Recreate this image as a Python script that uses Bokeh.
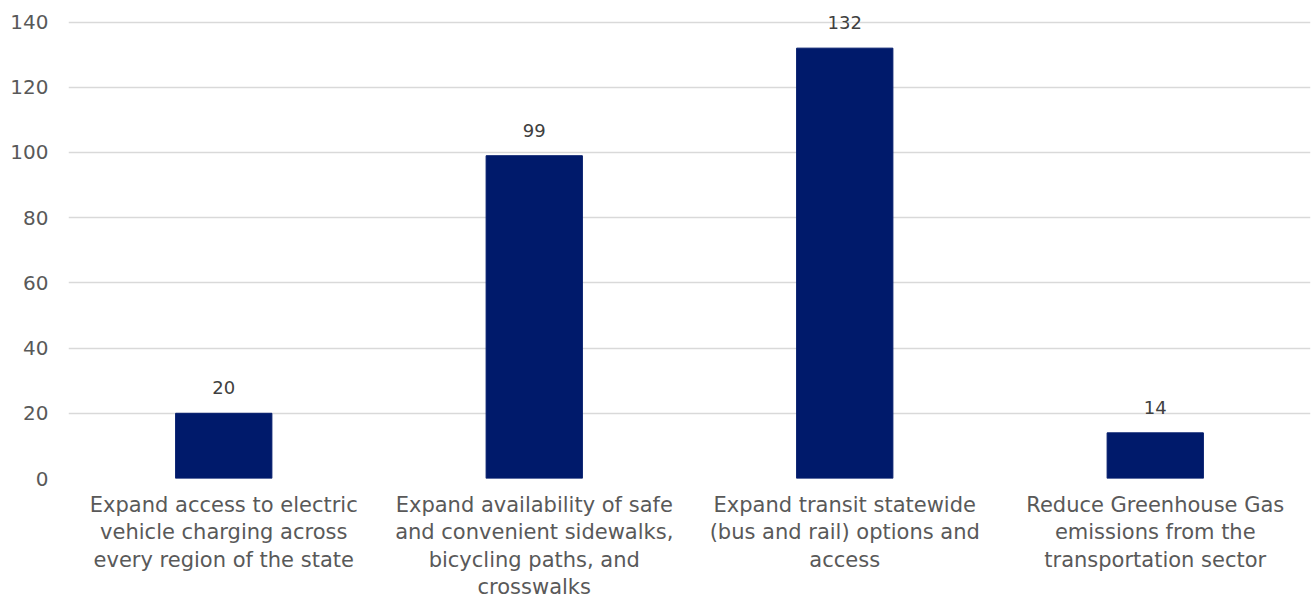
from bokeh.plotting import figure
from bokeh.models import ColumnDataSource, FactorRange, Range1d, LabelSet
from bokeh.core.properties import value
from bokeh.embed import file_html
from bokeh.resources import INLINE

categories = [
    "Expand access to electric\nvehicle charging across\nevery region of the state",
    "Expand availability of safe\nand convenient sidewalks,\nbicycling paths, and\ncrosswalks",
    "Expand transit statewide\n(bus and rail) options and\naccess",
    "Reduce Greenhouse Gas\nemissions from the\ntransportation sector",
]
values = [20, 99, 132, 14]
y_ticks = [0, 20, 40, 60, 80, 100, 120, 140]

FONT = "DejaVu Sans"

src = ColumnDataSource(dict(cat=categories, val=values, lbl=[str(v) for v in values]))

p = figure(
    width=1312, height=602,
    x_range=FactorRange(*categories, range_padding=0),
    y_range=Range1d(0, 146),
    output_backend="svg", toolbar_location=None,
    min_border_left=68, min_border_right=2, min_border_top=2, min_border_bottom=121,
)
p.vbar(x="cat", top="val", width=0.31, source=src, color="#001A6B")

labels = LabelSet(x="cat", y="val", text="lbl", source=src, text_align="center",
                  text_baseline="bottom", y_offset=19, text_font=value(FONT),
                  text_font_size="18px", text_color="#404040")
p.add_layout(labels)

p.outline_line_color = None
p.xgrid.grid_line_color = None
p.ygrid.grid_line_color = "#D9D9D9"
p.ygrid.grid_line_width = 1.5
p.yaxis.ticker = y_ticks
p.yaxis.axis_line_color = None
p.yaxis.major_tick_line_color = None
p.yaxis.minor_tick_line_color = None
p.yaxis.major_tick_out = 0
p.yaxis.major_label_standoff = 20
p.yaxis.major_label_text_font = FONT
p.yaxis.major_label_text_font_size = "20px"
p.yaxis.major_label_text_color = "#595959"

p.xaxis.axis_line_color = None
p.xaxis.major_tick_line_color = None
p.xaxis.minor_tick_line_color = None
p.xaxis.major_tick_out = 0
p.xaxis.major_label_standoff = 14
p.xaxis.major_label_text_font = FONT
p.xaxis.major_label_text_font_size = "21px"
p.xaxis.major_label_text_line_height = 1.15
p.xaxis.major_label_text_color = "#595959"
p.xaxis.major_label_orientation = "horizontal"

open("out.html", "w").write(file_html(p, INLINE))
